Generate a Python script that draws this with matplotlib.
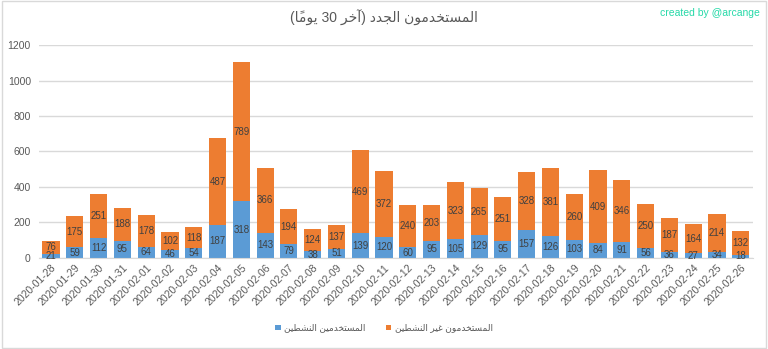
import numpy as np
import matplotlib
matplotlib.use("Agg")
import matplotlib.pyplot as plt
from matplotlib.patches import Rectangle

dates = ['2020-01-28', '2020-01-29', '2020-01-30', '2020-01-31', '2020-02-01',
         '2020-02-02', '2020-02-03', '2020-02-04', '2020-02-05', '2020-02-06',
         '2020-02-07', '2020-02-08', '2020-02-09', '2020-02-10', '2020-02-11',
         '2020-02-12', '2020-02-13', '2020-02-14', '2020-02-15', '2020-02-16',
         '2020-02-17', '2020-02-18', '2020-02-19', '2020-02-20', '2020-02-21',
         '2020-02-22', '2020-02-23', '2020-02-24', '2020-02-25', '2020-02-26']
active = [21, 59, 112, 95, 64, 46, 54, 187, 318, 143, 79, 38, 51, 139, 120,
          60, 95, 105, 129, 95, 157, 126, 103, 84, 91, 56, 36, 27, 34, 18]
inactive = [76, 175, 251, 188, 178, 102, 118, 487, 789, 366, 194, 124, 137, 469, 372,
            240, 203, 323, 265, 251, 328, 381, 260, 409, 346, 250, 187, 164, 214, 132]

title = 'المستخدمون الجدد (آخر 30 يومًا)'
label_active = 'المستخدمين النشطين'
label_inactive = 'المستخدمون غير النشطين'

# arabic presentation forms: isolated, final, initial, medial
FORMS = {
    'ا': ('\uFE8D', '\uFE8E', None, None),
    'آ': ('\uFE81', '\uFE82', None, None),
    'ت': ('\uFE95', '\uFE96', '\uFE97', '\uFE98'),
    'ج': ('\uFE9D', '\uFE9E', '\uFE9F', '\uFEA0'),
    'خ': ('\uFEA5', '\uFEA6', '\uFEA7', '\uFEA8'),
    'د': ('\uFEA9', '\uFEAA', None, None),
    'ر': ('\uFEAD', '\uFEAE', None, None),
    'س': ('\uFEB1', '\uFEB2', '\uFEB3', '\uFEB4'),
    'ش': ('\uFEB5', '\uFEB6', '\uFEB7', '\uFEB8'),
    'ط': ('\uFEC1', '\uFEC2', '\uFEC3', '\uFEC4'),
    'غ': ('\uFECD', '\uFECE', '\uFECF', '\uFED0'),
    'ل': ('\uFEDD', '\uFEDE', '\uFEDF', '\uFEE0'),
    'م': ('\uFEE1', '\uFEE2', '\uFEE3', '\uFEE4'),
    'ن': ('\uFEE5', '\uFEE6', '\uFEE7', '\uFEE8'),
    'و': ('\uFEED', '\uFEEE', None, None),
    'ي': ('\uFEF1', '\uFEF2', '\uFEF3', '\uFEF4'),
}
MARKS = '\u064B'


def rtl(s):
    chars = list(s)
    out = []
    for i, c in enumerate(chars):
        if c not in FORMS:
            out.append(c)
            continue
        j = i - 1
        while j >= 0 and chars[j] in MARKS:
            j -= 1
        k = i + 1
        while k < len(chars) and chars[k] in MARKS:
            k += 1
        prev = chars[j] if j >= 0 else ''
        nxt = chars[k] if k < len(chars) else ''
        jp = prev in FORMS and FORMS[prev][2] is not None
        jn = nxt in FORMS and FORMS[c][2] is not None
        f = FORMS[c]
        if jp and jn:
            out.append(f[3])
        elif jp:
            out.append(f[1])
        elif jn:
            out.append(f[2])
        else:
            out.append(f[0])
    vis = out[::-1]
    vis = [{'(': ')', ')': '('}.get(c, c) for c in vis]
    # digits keep left-to-right order
    res, run = [], []
    for c in vis:
        if c.isdigit():
            run.append(c)
        else:
            res.extend(run[::-1]); run = []
            res.append(c)
    res.extend(run[::-1])
    return ''.join(res)


plt.rcParams['font.family'] = ['Liberation Sans', 'DejaVu Sans']

blue = '#5b9bd5'
orange = '#ed7d31'
grey = '#595959'

fig = plt.figure(figsize=(7.68, 3.49), dpi=100)
ax = fig.add_axes([0.051, 0.261, 0.929, 0.61])

x = np.arange(len(dates))
b1 = ax.bar(x, active, 0.72, color=blue, label=rtl(label_active), zorder=2)
b2 = ax.bar(x, inactive, 0.72, bottom=active, color=orange,
            label=rtl(label_inactive), zorder=2)
ax.bar_label(b1, label_type='center', fontsize=7, color='#404040')
ax.bar_label(b2, label_type='center', fontsize=7, color='#404040')

ax.set_xlim(-0.5, len(dates) - 0.5)
ax.set_ylim(0, 1200)
ax.set_yticks(range(0, 1201, 200))
ax.yaxis.grid(True, color='#d9d9d9', linewidth=1, zorder=0)
ax.set_xticks(x)
ax.set_xticklabels(dates, rotation=45, ha='right', rotation_mode='anchor')
ax.tick_params(axis='both', length=0, labelsize=7.5, colors=grey)
ax.tick_params(axis='y', pad=6)
for s in ['top', 'right', 'left']:
    ax.spines[s].set_visible(False)
ax.spines['bottom'].set_color('#d9d9d9')

fig.text(0.5, 0.948, rtl(title), ha='center', va='center', fontsize=10, color=grey)
fig.text(0.99, 0.962, 'created by @arcange', ha='right', va='center',
         fontsize=7.5, color='#26d9a8')

fig.legend(loc='center', bbox_to_anchor=(0.5, 0.06), ncol=2, frameon=False,
           fontsize=6.5, handlelength=0.6, handleheight=0.6, handletextpad=0.4,
           columnspacing=2.2, labelcolor=grey)

fig.patches.append(Rectangle((0.002, 0.003), 0.996, 0.994, transform=fig.transFigure,
                             fill=False, edgecolor='#d9d9d9', linewidth=1))

plt.savefig('out.png', dpi=100)
